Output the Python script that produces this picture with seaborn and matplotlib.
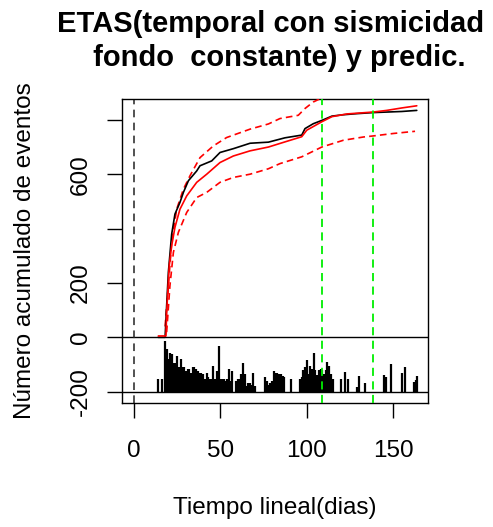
import numpy as np
import pandas as pd
import matplotlib
matplotlib.use("Agg")
import matplotlib.pyplot as plt
import seaborn as sns

# ---------------- data ----------------
# observed cumulative number of events
t_obs = [14, 18, 18.9, 19.9, 21.8, 23.7, 26.6, 28.6, 31.5, 36.3, 38.2, 45.0, 49.8,
         57.5, 67.2, 77.8, 87.4, 97.1, 99.0, 103.8, 108.7, 114.6, 121.2, 129.0,
         138.6, 155.0, 163.7]
n_obs = [0, 0, 117, 240, 380, 454, 497, 534, 577, 613, 632, 650, 681,
         695, 715, 719, 735, 745, 769, 787, 799, 815, 820, 824,
         828, 832, 836]

# ETAS model cumulative (fitted + prediction)
t_fit = [14.1, 18.5, 18.9, 20.4, 21.8, 23.7, 26.6, 30.5, 36.3, 42.1, 49.8, 57.5,
         67.2, 77.8, 87.4, 97.1, 100.0, 108.7, 114.6, 123.3, 138.6, 146.3, 155.0,
         163.7]
n_fit = [5, 5, 93, 264, 337, 405, 472, 521, 571, 601, 644, 668,
         687, 701, 720, 739, 763, 794, 813, 823, 830, 836, 845, 853]

# upper band
t_up = [18.0, 19.9, 21.8, 24.7, 28.6, 32.4, 38.2, 45.9, 53.6, 67.2, 77.8,
        84.5, 95.1, 99.0, 103.8, 107.7, 115.0, 164.0]
n_up = [40, 190, 350, 472, 546, 595, 662, 705, 736, 767, 786,
        806, 818, 843, 867, 879, 905, 950]

# lower band
t_lo = [18.9, 20.8, 22.8, 25.7, 30.5, 36.3, 42.1, 49.8, 57.5, 67.2, 77.8,
        84.5, 97.1, 108.7, 121.2, 132.8, 138.6, 150.2, 162.7]
n_lo = [19, 190, 313, 387, 460, 515, 534, 571, 589, 601, 621,
        640, 665, 701, 726, 738, 742, 751, 759]

# daily event bars drawn below the curves (height above the -200 baseline)
hist_days = [14, 16, 18, 19, 20, 21, 22, 23, 24, 25, 26, 27, 28, 29, 30, 31, 32, 33,
             34, 35, 36, 37, 38, 39, 40, 41, 42, 43, 44, 45, 46, 47, 48, 49, 50, 51,
             52, 53, 54, 55, 56, 57, 59, 60, 61, 62, 63, 64, 65, 66, 67, 68, 69, 70,
             76, 77, 78, 79, 80, 81, 82, 83, 84, 85, 86, 87, 91, 96, 97, 98, 99, 100,
             101, 102, 103, 104, 105, 106, 107, 108, 109, 110, 111, 112, 113, 114,
             115, 120, 122, 124, 129, 130, 134, 145, 146, 149, 155, 157, 162, 163, 164]
hist_height = [46, 46, 188, 157, 120, 144, 138, 107, 107, 132, 89, 120, 89, 92, 77, 83,
               83, 70, 89, 89, 83, 77, 70, 70, 64, 46, 67, 52, 46, 46, 95, 46, 77, 169,
               46, 46, 46, 40, 46, 83, 40, 77, 40, 46, 46, 64, 107, 64, 21, 30, 30, 25,
               70, 21, 52, 40, 25, 30, 40, 77, 70, 70, 64, 64, 58, 52, 47, 47, 53, 78,
               90, 115, 65, 96, 84, 143, 78, 60, 78, 84, 78, 65, 78, 109, 96, 65, 47,
               47, 72, 47, 16, 56, 31, 63, 53, 102, 68, 90, 37, 41, 56]
hist_base = -200

t_start = 0
t_pred = [109.0, 138.5]

x_ticks = [0, 50, 100, 150]
y_ticks = [-200, 0, 200, 400, 600, 800]
y_ticklabels = ["-200", "0", "200", "", "600", ""]

title = "ETAS(temporal con sismicidad \n fondo  constante) y predic."
xlabel = "Tiempo lineal(dias)"
ylabel = "Número acumulado de eventos"

# ---------------- plotting ----------------
sns.set_theme(style="white")
plt.rcParams["font.family"] = ["Liberation Sans", "DejaVu Sans"]
plt.rcParams["axes.edgecolor"] = "black"
plt.rcParams["axes.linewidth"] = 1.0

fig = plt.figure(figsize=(4.93, 5.27), dpi=100)
ax = fig.add_axes([122 / 493, 1 - 403 / 527, 306 / 493, 304 / 527])

obs = pd.DataFrame({"t": t_obs, "n": n_obs})
fit = pd.DataFrame({"t": t_fit, "n": n_fit})
up = pd.DataFrame({"t": t_up, "n": n_up})
lo = pd.DataFrame({"t": t_lo, "n": n_lo})

# reference lines
ax.axhline(0, color="black", lw=1.0, zorder=1)
ax.axhline(hist_base, color="black", lw=1.0, zorder=1)
ax.axvline(t_start, color="#222222", lw=1.1, linestyle=(0, (5, 3.5)), zorder=1)
for tp in t_pred:
    ax.axvline(tp, color="#00EE00", lw=1.3, linestyle=(0, (4.5, 3)), zorder=4)

# daily bars
h = np.asarray(hist_height, dtype=float)
ax.vlines(hist_days, hist_base, hist_base + h, color="black", lw=1.6, zorder=2)

# cumulative curves
sns.lineplot(data=up, x="t", y="n", color="red", lw=1.2, linestyle=(0, (4, 2.5)),
             estimator=None, sort=False, ax=ax, zorder=3)
sns.lineplot(data=lo, x="t", y="n", color="red", lw=1.2, linestyle=(0, (4, 2.5)),
             estimator=None, sort=False, ax=ax, zorder=3)
sns.lineplot(data=obs, x="t", y="n", color="black", lw=1.2,
             estimator=None, sort=False, ax=ax, zorder=3)
sns.lineplot(data=fit, x="t", y="n", color="red", lw=1.2,
             estimator=None, sort=False, ax=ax, zorder=3)

ax.set_xlim(-6.95, 170.2)
ax.set_ylim(-242, 878)

ax.set_xticks(x_ticks)
ax.set_xticklabels([str(v) for v in x_ticks])
ax.set_yticks(y_ticks)
ax.set_yticklabels(y_ticklabels, rotation=90, va="center")

ax.tick_params(axis="both", which="major", direction="out", length=11, width=1.0,
               color="black", labelsize=17.5, labelcolor="black",
               bottom=True, left=True)
ax.tick_params(axis="x", pad=15.5)
ax.tick_params(axis="y", pad=10.5)

for s in ax.spines.values():
    s.set_color("black")
    s.set_linewidth(1.0)

ax.set_xlabel(xlabel, fontsize=17.5, color="black")
ax.xaxis.set_label_coords((274.5 - 122) / 306, (403 - 508) / 304)
ax.xaxis.label.set_va("center")
ax.set_ylabel(ylabel, fontsize=17.5, color="black")
ax.yaxis.label.set_rotation_mode("default")
ax.yaxis.label.set_va("center")
ax.yaxis.set_label_coords((25 - 122) / 306, 0.5)

fig.text(275 / 493, 1 - 9.5 / 527, title, ha="center", va="top",
         multialignment="center", fontsize=21, fontweight="bold",
         linespacing=1.3, color="black")

fig.savefig("out.png", dpi=100, facecolor="white")
